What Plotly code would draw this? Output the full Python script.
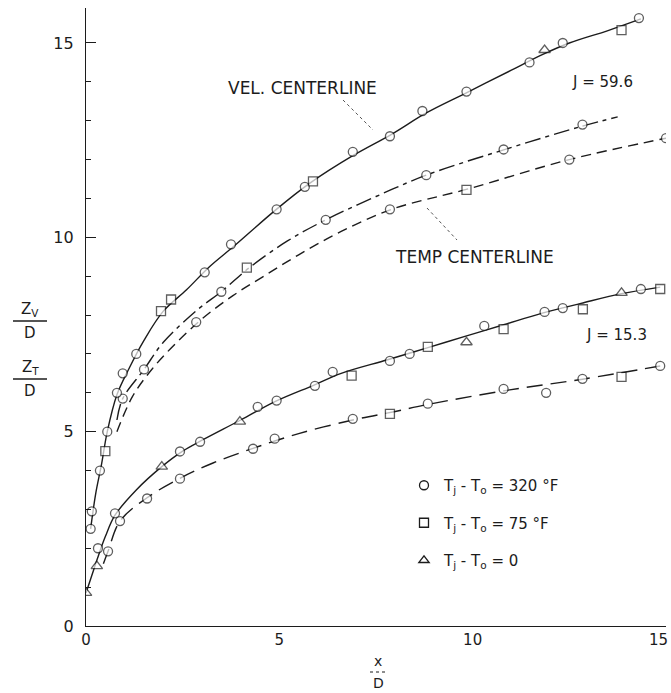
import plotly.graph_objects as go

# ---------------- data ----------------
# J = 59.6, velocity centerline (solid fitted curve)
vel596_fit_x = [0.12, 0.25, 0.4, 0.55, 0.8, 1.1, 1.5, 2.0, 2.6, 3.2, 3.8, 4.9, 5.8, 6.9, 7.9, 8.8, 9.8, 11.0, 11.8, 12.5, 13.5, 14.35]
vel596_fit_y = [2.5, 3.4, 4.15, 5.0, 5.95, 6.6, 7.35, 8.1, 8.65, 9.25, 9.75, 10.7, 11.4, 12.1, 12.65, 13.2, 13.7, 14.3, 14.7, 15.0, 15.32, 15.62]
vel596_pts_x = [0.12, 0.15, 0.36, 0.5, 0.55, 0.8, 0.95, 1.3, 1.94, 2.2, 3.07, 3.75, 4.93, 5.66, 5.87, 6.9, 7.86, 8.7, 9.84, 11.47, 11.86, 12.33, 13.85, 14.3]
vel596_pts_y = [2.5, 2.95, 4.0, 4.5, 5.0, 6.0, 6.5, 7.0, 8.1, 8.4, 9.1, 9.82, 10.72, 11.3, 11.44, 12.2, 12.6, 13.25, 13.75, 14.5, 14.82, 15.0, 15.33, 15.64]
vel596_pts_sym = ["c", "c", "c", "s", "c", "c", "c", "c", "s", "s", "c", "c", "c", "c", "s", "c", "c", "c", "c", "c", "t", "c", "s", "c"]

# J = 59.6, temperature centerline (upper, dash-dot)
tempA596_fit_x = [0.8, 0.95, 1.5, 2.0, 2.9, 3.5, 4.2, 5.2, 6.2, 7.5, 8.8, 10.8, 12.8, 13.75]
tempA596_fit_y = [5.3, 5.85, 6.6, 7.3, 8.15, 8.6, 9.2, 9.9, 10.45, 11.05, 11.6, 12.25, 12.85, 13.1]
tempA596_pts_x = [0.95, 1.5, 3.5, 4.16, 6.2, 8.8, 10.8, 12.84]
tempA596_pts_y = [5.85, 6.6, 8.6, 9.22, 10.45, 11.6, 12.26, 12.9]
tempA596_pts_sym = ["c", "c", "c", "s", "c", "c", "c", "c"]

# J = 59.6, temperature centerline (lower, dashed)
tempB596_fit_x = [0.8, 1.2, 1.7, 2.3, 3.0, 3.8, 4.6, 5.5, 6.6, 7.9, 9.9, 12.5, 15.0]
tempB596_fit_y = [5.0, 5.9, 6.6, 7.25, 7.9, 8.5, 9.0, 9.55, 10.15, 10.72, 11.25, 12.0, 12.55]
tempB596_pts_x = [2.85, 7.86, 9.84, 12.5, 15.0]
tempB596_pts_y = [7.82, 10.72, 11.22, 12.0, 12.55]
tempB596_pts_sym = ["c", "c", "s", "c", "c"]

# J = 15.3, velocity centerline (solid)
vel153_fit_x = [0.0, 0.15, 0.3, 0.5, 0.75, 1.3, 1.96, 2.5, 3.0, 4.0, 4.9, 5.9, 6.6, 7.8, 8.8, 9.8, 10.8, 11.8, 12.8, 13.85, 14.85]
vel153_fit_y = [0.85, 1.3, 1.75, 2.3, 2.85, 3.5, 4.1, 4.5, 4.78, 5.3, 5.78, 6.2, 6.5, 6.85, 7.15, 7.45, 7.75, 8.05, 8.3, 8.55, 8.72]
vel153_pts_x = [0.0, 0.28, 0.31, 0.75, 1.96, 2.43, 2.95, 3.98, 4.44, 4.93, 5.92, 6.38, 6.87, 7.86, 8.37, 8.84, 9.84, 10.3, 10.8, 11.86, 12.33, 12.85, 13.85, 14.35, 14.85]
vel153_pts_y = [0.85, 1.54, 2.0, 2.9, 4.1, 4.49, 4.74, 5.26, 5.64, 5.8, 6.18, 6.54, 6.44, 6.82, 7.0, 7.18, 7.3, 7.72, 7.64, 8.08, 8.18, 8.15, 8.57, 8.67, 8.67]
vel153_pts_sym = ["t", "t", "c", "c", "t", "c", "c", "t", "c", "c", "c", "c", "s", "c", "c", "s", "t", "c", "s", "c", "c", "s", "t", "c", "s"]

# J = 15.3, temperature centerline (dashed)
temp153_fit_x = [0.45, 0.57, 0.88, 1.58, 2.43, 3.3, 4.32, 5.5, 6.9, 8.0, 8.84, 10.8, 12.84, 14.85]
temp153_fit_y = [1.6, 1.92, 2.7, 3.3, 3.8, 4.2, 4.57, 4.95, 5.3, 5.52, 5.7, 6.05, 6.35, 6.69]
temp153_pts_x = [0.57, 0.88, 1.58, 2.43, 4.32, 4.88, 6.9, 7.86, 8.84, 10.8, 11.9, 12.84, 13.85, 14.85]
temp153_pts_y = [1.92, 2.7, 3.28, 3.79, 4.56, 4.82, 5.33, 5.46, 5.72, 6.1, 6.0, 6.36, 6.41, 6.69]
temp153_pts_sym = ["c", "c", "c", "c", "c", "c", "c", "s", "c", "c", "c", "c", "s", "c"]

legend_labels = ["T<sub>j</sub> - T<sub>o</sub> = 320 °F",
                 "T<sub>j</sub> - T<sub>o</sub> = 75 °F",
                 "T<sub>j</sub> - T<sub>o</sub> = 0"]
legend_syms = ["c", "s", "t"]

x_ticks = [0, 5, 10, 15]
x_tick_text = ["0", "5", "10", "15\u2003"]
y_ticks = [0, 5, 10, 15]

# ---------------- styling ----------------
INK = "#1c1c1c"
FONT = "DejaVu Sans"
SYMF = {"c": "circle", "s": "square", "t": "triangle-up"}

W, H = 671, 693
ML, MR, MT, MB = 86, 5, 8, 67
PW, PH = W - ML - MR, H - MT - MB


def px(xp):
    return (xp - ML) / PW


def py(yp):
    return (H - MB - yp) / PH


fig = go.Figure()


def add_curve(fx, fy, dash, sx, sy, ssym):
    fig.add_trace(go.Scatter(x=fx, y=fy, mode="lines",
                             line=dict(color=INK, width=1.4, dash=dash, shape="spline", smoothing=1.0),
                             showlegend=False, hoverinfo="skip"))
    fig.add_trace(go.Scatter(x=sx, y=sy, mode="markers",
                             marker=dict(symbol=[SYMF[s] for s in ssym], size=[9 if s != "t" else 10 for s in ssym],
                                         color="white", line=dict(color=INK, width=1.3)),
                             showlegend=False))


add_curve(tempB596_fit_x, tempB596_fit_y, "10px,6px", tempB596_pts_x, tempB596_pts_y, tempB596_pts_sym)
add_curve(tempA596_fit_x, tempA596_fit_y, "16px,5px,4px,5px", tempA596_pts_x, tempA596_pts_y, tempA596_pts_sym)
add_curve(vel596_fit_x, vel596_fit_y, "solid", vel596_pts_x, vel596_pts_y, vel596_pts_sym)
add_curve(temp153_fit_x, temp153_fit_y, "16px,8px", temp153_pts_x, temp153_pts_y, temp153_pts_sym)
add_curve(vel153_fit_x, vel153_fit_y, "solid", vel153_pts_x, vel153_pts_y, vel153_pts_sym)

for i, (lab, s) in enumerate(zip(legend_labels, legend_syms)):
    fig.add_trace(go.Scatter(x=[None], y=[None], mode="markers", name=lab, legendgroup=f"g{i}",
                             marker=dict(symbol=SYMF[s], size=9, color="white", line=dict(color=INK, width=1.3))))

annotations = [
    dict(text="VEL. CENTERLINE", x=px(302), y=py(88), xanchor="center", yanchor="middle", size=17),
    dict(text="TEMP CENTERLINE", x=px(474), y=py(257), xanchor="center", yanchor="middle", size=17),
    dict(text="J = 59.6", x=px(602), y=py(82), xanchor="center", yanchor="middle", size=15),
    dict(text="J = 15.3", x=px(616), y=py(335), xanchor="center", yanchor="middle", size=15),
    dict(text="Z<sub>V</sub>", x=px(30), y=py(309), xanchor="center", yanchor="middle", size=15),
    dict(text="D", x=px(30), y=py(333), xanchor="center", yanchor="middle", size=15),
    dict(text="Z<sub>T</sub>", x=px(30), y=py(367), xanchor="center", yanchor="middle", size=15),
    dict(text="D", x=px(30), y=py(391), xanchor="center", yanchor="middle", size=15),
    dict(text="x", x=px(378), y=py(661), xanchor="center", yanchor="middle", size=14),
    dict(text="D", x=px(378), y=py(683), xanchor="center", yanchor="middle", size=14),
]
for a in annotations:
    fs = a.pop("size")
    a.update(xref="paper", yref="paper", showarrow=False, font=dict(family=FONT, size=fs, color=INK))

shapes = [
    dict(type="line", xref="paper", yref="paper", x0=px(13), x1=px(47), y0=py(321), y1=py(321), line=dict(color=INK, width=1.3)),
    dict(type="line", xref="paper", yref="paper", x0=px(13), x1=px(47), y0=py(379), y1=py(379), line=dict(color=INK, width=1.3)),
    dict(type="line", xref="paper", yref="paper", x0=px(370), x1=px(386), y0=py(672), y1=py(672), line=dict(color=INK, width=1, dash="dot")),
    dict(type="line", xref="paper", yref="paper", x0=px(343), x1=px(373), y0=py(100), y1=py(130), line=dict(color="#555", width=1, dash="dot")),
    dict(type="line", xref="paper", yref="paper", x0=px(427), x1=px(457), y0=py(208), y1=py(240), line=dict(color="#555", width=1, dash="dot")),
]

fig.update_layout(
    width=W, height=H,
    margin=dict(l=ML, r=MR, t=MT, b=MB, autoexpand=False),
    paper_bgcolor="white", plot_bgcolor="white",
    font=dict(family=FONT, size=14, color=INK),
    annotations=annotations, shapes=shapes,
    legend=dict(x=px(404), y=py(469), xanchor="left", yanchor="top", bgcolor="rgba(0,0,0,0)",
                tracegroupgap=15, font=dict(family=FONT, size=15, color=INK), traceorder="grouped"),
    xaxis=dict(range=[0, 15], showgrid=False, zeroline=False, showline=True, linecolor=INK, linewidth=1.3,
               tickvals=x_ticks, ticktext=x_tick_text, ticks="", ticklabeloverflow="allow",
               tickfont=dict(family=FONT, size=15, color=INK), fixedrange=True),
    yaxis=dict(range=[0, 15.9], showgrid=False, zeroline=False, showline=True, linecolor=INK, linewidth=1.3,
               tickvals=y_ticks, ticks="inside", ticklen=10, tickwidth=1.3, tickcolor=INK,
               ticklabelstandoff=8,
               minor=dict(dtick=1, ticks="inside", ticklen=5, tickwidth=1, tickcolor=INK),
               tickfont=dict(family=FONT, size=16, color=INK), fixedrange=True),
)

fig.write_html("out.html", config={"displayModeBar": False},
               post_script="document.body.style.margin='0px';document.body.style.overflow='hidden';")
